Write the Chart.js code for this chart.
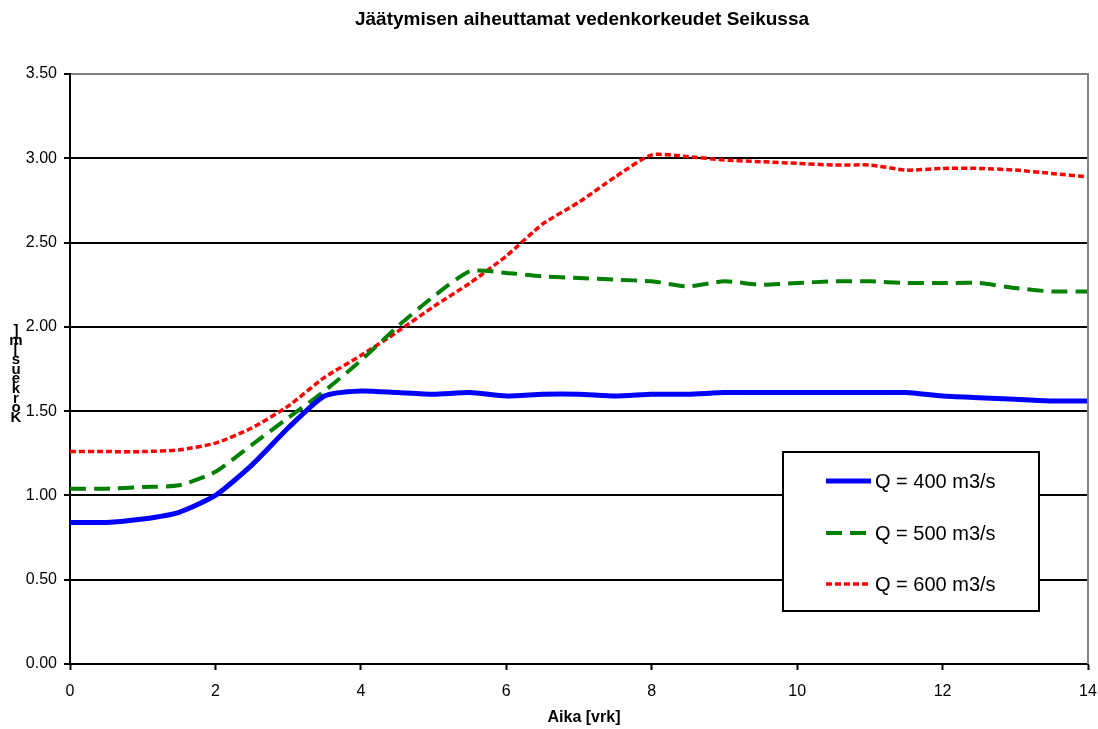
<!DOCTYPE html>
<html>
<head>
<meta charset="utf-8">
<script src="https://cdn.jsdelivr.net/npm/chart.js@4.4.1/dist/chart.umd.min.js"></script>
<style>
html,body{margin:0;padding:0;background:#fff;}
#wrap{width:1098px;height:729px;}
</style>
</head>
<body>
<div id="wrap"><canvas id="c" width="1098" height="729"></canvas></div>
<script>
const titleText = "Jäätymisen aiheuttamat vedenkorkeudet Seikussa";
const xTitle = "Aika [vrk]";
const yTitle = "Korkeus [m]";
const seriesLabels = ["Q = 400 m3/s", "Q = 500 m3/s", "Q = 600 m3/s"];
const days = [0,0.5,1,1.5,2,2.5,3,3.5,4,4.5,5,5.5,6,6.5,7,7.5,8,8.5,9,9.5,10,10.5,11,11.5,12,12.5,13,13.5,14];
const q400 = [0.84,0.84,0.86,0.90,1.00,1.18,1.40,1.59,1.62,1.61,1.60,1.61,1.59,1.60,1.60,1.59,1.60,1.60,1.61,1.61,1.61,1.61,1.61,1.61,1.59,1.58,1.57,1.56,1.56];
const q500 = [1.04,1.04,1.05,1.06,1.14,1.30,1.46,1.62,1.80,2.00,2.18,2.33,2.32,2.30,2.29,2.28,2.27,2.24,2.27,2.25,2.26,2.27,2.27,2.26,2.26,2.26,2.23,2.21,2.21];
const q600 = [1.26,1.26,1.26,1.27,1.31,1.40,1.53,1.70,1.83,1.97,2.12,2.26,2.42,2.61,2.74,2.89,3.02,3.01,2.99,2.98,2.97,2.96,2.96,2.93,2.94,2.94,2.93,2.91,2.89];

const toPts = arr => days.map((d,i)=>({x:d,y:arr[i]}));
const FONT = "'Liberation Sans', Arial, sans-serif";

const styles = [
  {color:'#0000ff', width:5, dash:[]},
  {color:'#008000', width:4, dash:[16,8]},
  {color:'#ff0000', width:3.5, dash:[6,3]}
];

const deco = {
  id:'deco',
  afterDraw(chart){
    const c = chart.ctx, a = chart.chartArea;
    c.save();
    // right gray border
    c.strokeStyle = '#808080'; c.lineWidth = 2;
    c.beginPath(); c.moveTo(a.right, a.top-1); c.lineTo(a.right, a.bottom); c.stroke();
    // title
    c.fillStyle = '#000';
    c.font = "bold 19px " + FONT;
    c.textAlign = 'center'; c.textBaseline = 'middle';
    c.fillText(titleText, 582, 20);
    // x title
    c.font = "bold 16px " + FONT;
    c.fillText(xTitle, 584, 718);
    // y title stacked chars (bottom to top)
    c.font = "bold 15px " + FONT;
    const chars = yTitle.replace(/ /g,'').split('');
    let y = 418;
    for (let i=0;i<chars.length;i++){
      c.fillText(chars[i], 16, y);
      y -= 9.7;
    }
    // legend box
    const lx=783, ly=452, lw=256, lh=159;
    c.fillStyle = '#fff';
    c.fillRect(lx, ly, lw, lh);
    c.strokeStyle = '#000'; c.lineWidth = 2;
    c.strokeRect(lx, ly, lw, lh);
    const rows = [481, 533, 584];
    c.font = "20px " + FONT;
    c.textAlign = 'left';
    for (let i=0;i<3;i++){
      const s = styles[i];
      c.strokeStyle = s.color; c.lineWidth = s.width; c.setLineDash(s.dash);
      c.beginPath(); c.moveTo(826, rows[i]); c.lineTo(871, rows[i]); c.stroke();
      c.setLineDash([]);
      c.fillStyle = '#000';
      c.fillText(seriesLabels[i], 875, rows[i]+1);
    }
    c.restore();
  }
};

new Chart(document.getElementById('c'), {
  type:'line',
  data:{
    datasets:[q400,q500,q600].map((arr,i)=>({
      label: seriesLabels[i],
      data: toPts(arr),
      borderColor: styles[i].color,
      borderWidth: styles[i].width,
      borderDash: styles[i].dash,
      pointRadius:0,
      tension:0.2,
      fill:false
    }))
  },
  options:{
    responsive:false,
    animation:false,
    layout:{padding:{top:74,right:10,left:0,bottom:0}},
    plugins:{legend:{display:false}, title:{display:false}, tooltip:{enabled:false}},
    scales:{
      x:{
        type:'linear', min:0, max:14,
        ticks:{stepSize:2, color:'#000', font:{family:FONT,size:16}, padding:12, maxRotation:0},
        grid:{drawOnChartArea:false, drawTicks:true, tickLength:6, tickColor:'#000', tickWidth:2},
        border:{color:'#000', width:2},
        afterFit(s){ s.height = 65; s.paddingRight = 0; s.paddingLeft = 0; }
      },
      y:{
        min:0, max:3.5,
        ticks:{stepSize:0.5, color:'#000', font:{family:FONT,size:16}, padding:7, callback:v=>Number(v).toFixed(2)},
        grid:{color:ctx=> (ctx.tick && ctx.tick.value===3.5) ? '#808080' : '#000', lineWidth:2, tickLength:6, tickColor:'#000', tickWidth:2},
        border:{color:'#000', width:2},
        afterFit(s){ s.width = 70; s.paddingTop = 0; s.paddingBottom = 0; }
      }
    }
  },
  plugins:[deco]
});
</script>
</body>
</html>
